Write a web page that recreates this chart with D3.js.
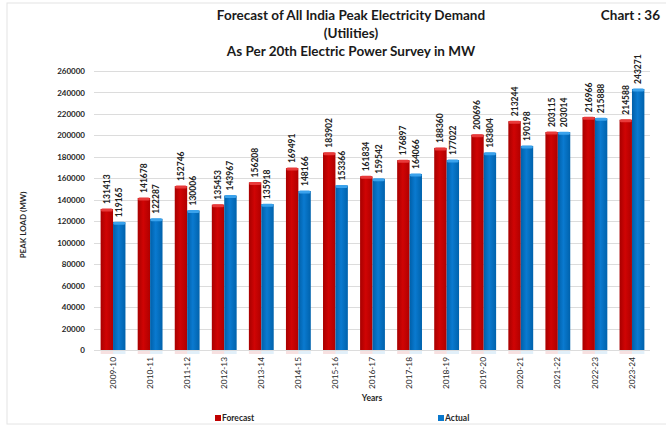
<!DOCTYPE html>
<html><head><meta charset="utf-8">
<script src="https://cdn.jsdelivr.net/npm/d3@7/dist/d3.min.js"></script>
<style>body{margin:0;background:#fff}svg{display:block}text{font-family:Lato,"Open Sans",sans-serif}</style>
</head><body><svg id="c" width="666" height="427"></svg>
<script>
const years = ["2009-10","2010-11","2011-12","2012-13","2013-14","2014-15","2015-16","2016-17","2017-18","2018-19","2019-20","2020-21","2021-22","2022-23","2023-24"];
const forecast = [131413,141678,152746,135453,156208,169491,183902,161834,176897,188360,200696,213244,203115,216966,214588];
const actual = [119165,122287,130006,143967,135918,148166,153366,159542,164066,177022,183804,190198,203014,215888,243271];
const seriesNames = ["Forecast","Actual"];
const yTicks = [0,20000,40000,60000,80000,100000,120000,140000,160000,180000,200000,220000,240000,260000];
const titleLines = ["Forecast of All India Peak Electricity Demand","(Utilities)","As Per 20th Electric Power Survey in MW"];

const svg = d3.select("#c");
const defs = svg.append("defs");
function grad(id, c1, c2, c3){
  const g = defs.append("linearGradient").attr("id",id).attr("x1","0").attr("x2","1").attr("y1","0").attr("y2","0");
  g.append("stop").attr("offset","0").attr("stop-color",c1);
  g.append("stop").attr("offset","0.45").attr("stop-color",c2);
  g.append("stop").attr("offset","1").attr("stop-color",c3);
}
grad("gF","#a80000","#d00404","#b00000");
grad("gA","#005fa8","#0a7ad0","#0062ac");
const colors = {Forecast:"url(#gF)", Actual:"url(#gA)"};
const capColors = {Forecast:"#e83a3a", Actual:"#3aa2ec"};
const legendColors = {Forecast:"#c00000", Actual:"#0a78cc"};

svg.append("rect").attr("x",7).attr("y",3).attr("width",666).attr("height",421)
  .attr("fill","none").attr("stroke","#e4e4e4").attr("stroke-width",1);

const x0 = d3.scaleBand().domain(years).range([94.5,650.5]).paddingInner(0.33).paddingOuter(0.165);
const x1 = d3.scaleBand().domain(seriesNames).range([0,x0.bandwidth()]);
const y = d3.scaleLinear().domain([0,260000]).range([350,71]);

// grid
svg.append("g").selectAll("line").data(yTicks).join("line")
  .attr("x1",94).attr("x2",650).attr("y1",d=>Math.round(y(d))+0.5).attr("y2",d=>Math.round(y(d))+0.5)
  .attr("stroke","#dcdcdc").attr("stroke-width",1);

// y axis
const yAxis = svg.append("g").attr("transform","translate(85,0)")
  .call(d3.axisLeft(y).tickValues(yTicks).tickSize(0).tickPadding(0).tickFormat(d3.format("d")));
yAxis.select(".domain").remove();
yAxis.selectAll("text").attr("font-size",8).attr("font-weight","bold").attr("fill","#262626");

// x axis
const xAxis = svg.append("g").attr("transform","translate(0,350)")
  .call(d3.axisBottom(x0).tickSize(0).tickPadding(0));
xAxis.select(".domain").remove();
xAxis.selectAll("text").attr("font-size",8.3).attr("fill","#262626")
  .attr("text-anchor","end").attr("dx","-7").attr("dy","0.32em").attr("y",0).attr("x",0);
xAxis.selectAll(".tick text").attr("transform", "rotate(-90)");

const rows = years.map((yr,i)=>({yr, vals:[{k:"Forecast",v:forecast[i]},{k:"Actual",v:actual[i]}]}));
const grp = svg.append("g").selectAll("g").data(rows).join("g").attr("transform",d=>`translate(${x0(d.yr)},0)`);
// reflection
grp.selectAll("rect.refl").data(d=>d.vals).join("rect").attr("class","refl")
  .attr("x",d=>x1(d.k)).attr("width",x1.bandwidth()).attr("y",351).attr("height",3)
  .attr("fill",d=>legendColors[d.k]).attr("opacity",0.12);
grp.selectAll("rect.bar").data(d=>d.vals).join("rect").attr("class","bar")
  .attr("x",d=>x1(d.k)).attr("width",x1.bandwidth()).attr("y",d=>y(d.v)).attr("height",d=>y(0)-y(d.v))
  .attr("fill",d=>colors[d.k]);
grp.selectAll("rect.cap").data(d=>d.vals).join("rect").attr("class","cap")
  .attr("x",d=>x1(d.k)+0.3).attr("width",x1.bandwidth()-0.6).attr("y",d=>y(d.v)-0.5).attr("height",3).attr("rx",1.5)
  .attr("fill",d=>capColors[d.k]);
grp.selectAll("text.val").data(d=>d.vals).join("text").attr("class","val")
  .attr("transform",d=>`translate(${x1(d.k)+x1.bandwidth()/2},${y(d.v)-5}) rotate(-90)`)
  .attr("dy","0.35em").attr("font-size",8.5).attr("font-weight","bold").attr("fill","#222")
  .text(d=>d.v);

// titles
const tl = svg.append("g");
const tY = [20,38,56];
titleLines.forEach((t,i)=>{
  tl.append("text").attr("x",351).attr("y",tY[i]).attr("text-anchor","middle")
    .attr("font-size",13.5).attr("font-weight","bold").attr("fill","#1a1a1a").text(t);
});
svg.append("text").attr("x",660).attr("y",20).attr("text-anchor","end").attr("font-size",13.5)
  .attr("font-weight","bold").attr("fill","#1a1a1a").text("Chart : 36");

// axis titles
svg.append("text").attr("transform","translate(26,225) rotate(-90)").attr("text-anchor","middle")
  .attr("font-size",8).attr("font-weight","bold").attr("fill","#262626").text("PEAK LOAD (MW)");
svg.append("text").attr("x",372).attr("y",401).attr("text-anchor","middle")
  .attr("font-size",8.5).attr("font-weight","bold").attr("fill","#262626").text("Years");

// legend
const legX = {Forecast:215, Actual:438};
seriesNames.forEach(k=>{
  svg.append("rect").attr("x",legX[k]).attr("y",415).attr("width",6).attr("height",6).attr("fill",legendColors[k]);
  svg.append("text").attr("x",legX[k]+7).attr("y",421).attr("font-size",8.5).attr("font-weight","bold")
    .attr("fill","#262626").text(k);
});
</script></body></html>
